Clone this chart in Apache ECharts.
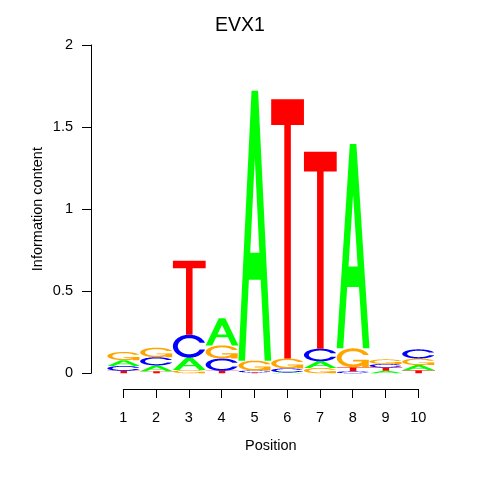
<!DOCTYPE html>
<html>
<head>
<meta charset="utf-8">
<script src="https://cdn.jsdelivr.net/npm/echarts@6/dist/echarts.min.js"></script>
<style>html,body{margin:0;padding:0;background:#fff}#logo{width:480px;height:480px}</style>
</head>
<body>
<div id="logo"></div>
<script>
// sequence logo, information content per letter per position
var positions = [1, 2, 3, 4, 5, 6, 7, 8, 9, 10];
var letters = ['A', 'C', 'G', 'T'];
var icA = [0.035, 0.036, 0.075, 0.165, 1.645, 0.005, 0.040, 1.245, 0.015, 0.032];
var icC = [0.030, 0.050, 0.140, 0.075, 0.012, 0.025, 0.077, 0.012, 0.022, 0.056];
var icG = [0.050, 0.058, 0.020, 0.080, 0.060, 0.060, 0.033, 0.115, 0.028, 0.040];
var icT = [0.015, 0.012, 0.450, 0.015, 0.005, 1.580, 1.200, 0.025, 0.020, 0.018];
var yTicks = [0, 0.5, 1, 1.5, 2];
var colors = {A: '#00ff00', C: '#0000ff', G: '#ffa500', T: '#ff0000'};
var font = '"Liberation Sans", Arial, sans-serif';

// letter outlines in a unit box (y up), same as the seqLogo glyphs
function arc(r, a0, a1, n) {
    var pts = [];
    for (var i = 0; i <= n; i++) {
        var a = a0 + (a1 - a0) * i / n;
        pts.push([0.5 + r * Math.sin(a), 0.5 + r * Math.cos(a)]);
    }
    return pts;
}
function mirror(pts) {
    return pts.slice().reverse().map(function (p) { return [p[0], 1 - p[1]]; });
}
function letterC() {
    var ol = arc(0.5, Math.PI / 2 + 0.3, 1.5 * Math.PI, 60);
    var hMax = ol[0][1];
    var aIn = Math.acos((hMax - 0.5) / 0.35);
    var il = arc(0.35, aIn, 1.5 * Math.PI, 60);
    var ou = mirror(ol);
    var iu = mirror(il);
    return ol.concat(ou, iu.slice().reverse(), il.slice().reverse());
}
var cOut = letterC();
var r1 = 0.5 + 0.5 * Math.cos(0.3);
var shapes = {
    A: [[[0, 0], [0.4, 1], [0.6, 1], [1, 0], [0.8, 0], [0.68, 0.3], [0.32, 0.3], [0.2, 0]],
        [[0.36, 0.4], [0.5, 0.75], [0.64, 0.4]]],
    C: [cOut],
    G: [cOut, [[r1, 0.4], [0.5, 0.4], [0.5, 0.3], [r1 - 0.2, 0.3], [r1 - 0.2, 0], [r1, 0]]],
    T: [[[0, 1], [1, 1], [1, 0.9], [0.6, 0.9], [0.6, 0], [0.4, 0], [0.4, 0.9], [0, 0.9]]]
};

// stack letters per position, smallest at the bottom
var ic = [icA, icC, icG, icT];
var stacks = [];
positions.forEach(function (p, i) {
    var col = letters.map(function (l, k) { return {k: k, v: ic[k][i]}; });
    col.sort(function (a, b) { return a.v - b.v; });
    var base = 0;
    col.forEach(function (c) {
        stacks.push([p, base, base + c.v, c.k]);
        base += c.v;
    });
});

function renderItem(params, api) {
    var pos = api.value(0), y0 = api.value(1), y1 = api.value(2);
    var L = letters[api.value(3)];
    var p0 = api.coord([pos - 0.5, y0]);
    var p1 = api.coord([pos + 0.5, y1]);
    var toPx = function (pt) {
        return [p0[0] + pt[0] * (p1[0] - p0[0]), p0[1] + pt[1] * (p1[1] - p0[1])];
    };
    return {
        type: 'group',
        children: shapes[L].map(function (poly, k) {
            var hole = (L === 'A' && k === 1);
            return {
                type: 'polygon',
                shape: {points: poly.map(toPx)},
                style: {fill: hole ? '#ffffff' : colors[L]}
            };
        })
    };
}

var myChart = echarts.init(document.getElementById('logo'));
var option = {
    animation: false,
    backgroundColor: '#ffffff',
    title: {
        text: 'EVX1',
        left: 'center',
        top: 16,
        padding: 0,
        textStyle: {fontFamily: font, fontSize: 19.5, fontWeight: 'normal', color: '#000'}
    },
    grid: [
        {left: 91, top: 45, width: 344, height: 328.3},
        {left: 123.3, right: 61.7, top: 370, bottom: 91}
    ],
    xAxis: [
        {gridIndex: 0, type: 'value', min: 0, max: 10.5, show: false},
        {
            gridIndex: 1, type: 'value', min: 1, max: 10, interval: 1,
            name: 'Position', nameLocation: 'middle', nameGap: 49,
            nameTextStyle: {fontFamily: font, fontSize: 14.5, color: '#000'},
            axisLine: {show: true, lineStyle: {color: '#000', width: 1}},
            axisTick: {show: true, length: 9, lineStyle: {color: '#000'}},
            axisLabel: {fontFamily: font, fontSize: 14.5, color: '#000', margin: 21},
            splitLine: {show: false}
        }
    ],
    yAxis: [
        {
            gridIndex: 0, type: 'value', min: 0, max: 2, interval: 0.5,
            name: 'Information content', nameLocation: 'middle', nameGap: 46,
            nameMoveOverlap: false,
            nameTextStyle: {fontFamily: font, fontSize: 14.5, color: '#000'},
            axisLine: {show: true, lineStyle: {color: '#000', width: 1}},
            axisTick: {show: true, length: 9, lineStyle: {color: '#000'}},
            axisLabel: {
                fontFamily: font, fontSize: 14.5, color: '#000', margin: 18,
                formatter: function (v) { return yTicks.indexOf(v) >= 0 ? String(v) : ''; }
            },
            splitLine: {show: false}
        },
        {gridIndex: 1, type: 'value', show: false}
    ],
    series: [{
        type: 'custom',
        xAxisIndex: 0,
        yAxisIndex: 0,
        renderItem: renderItem,
        encode: {x: 0, y: [1, 2]},
        clip: false,
        silent: true,
        data: stacks
    }]
};
myChart.setOption(option);
</script>
</body>
</html>
